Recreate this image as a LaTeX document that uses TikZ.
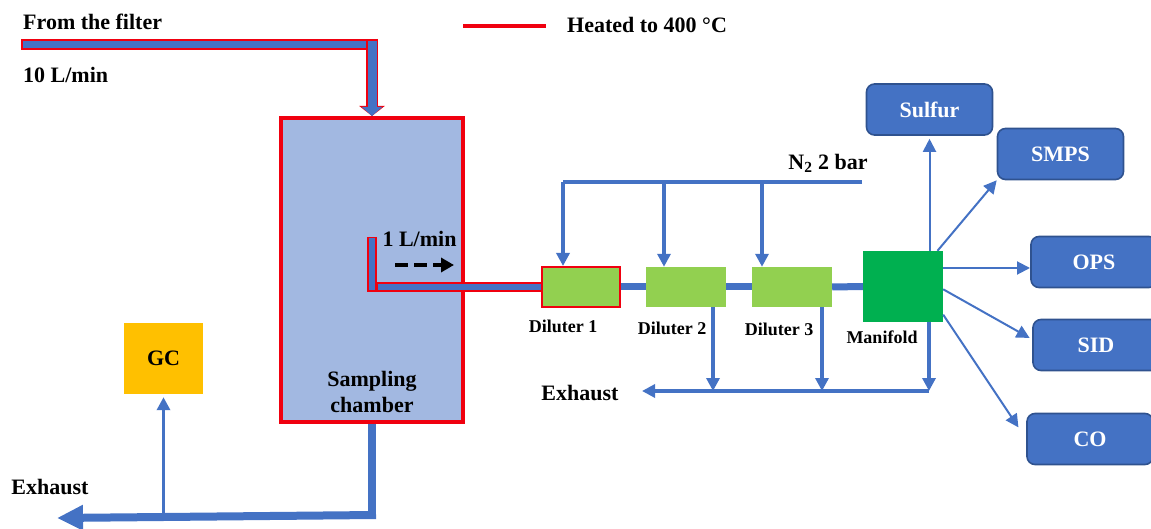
\documentclass[tikz,border=0pt]{standalone}
\usepackage{fontspec}
\setmainfont{Liberation Serif}
\usetikzlibrary{arrows.meta}
\definecolor{pipeblue}{HTML}{4472C4}
\definecolor{boxedge}{HTML}{2F528F}
\definecolor{chamberfill}{HTML}{A2B8E1}
\definecolor{dilutergreen}{HTML}{92D050}
\definecolor{manifoldgreen}{HTML}{00B050}
\definecolor{gcyellow}{HTML}{FFC000}
\definecolor{heatred}{HTML}{F0000F}
\begin{document}
\begin{tikzpicture}[
        x=1pt, y=-1pt,
        lab/.style={font=\fontsize{22}{26}\selectfont\bfseries, text=black, align=center, inner sep=0pt},
        smalllab/.style={font=\fontsize{18}{24}\selectfont\bfseries, text=black, align=center, inner sep=0pt},
        instrument/.style={rectangle, rounded corners=8pt, draw=boxedge, line width=1.6pt, fill=pipeblue, text=white, font=\fontsize{22}{26}\selectfont\bfseries, minimum width=126pt, minimum height=51pt, inner sep=0pt},
        diluter/.style={rectangle, fill=dilutergreen, minimum width=80pt, minimum height=40pt, inner sep=0pt},
        hotred/.style={draw=heatred, line width=11pt},
        hotblue/.style={draw=pipeblue, line width=7pt},
        gas/.style={draw=pipeblue, line width=3.5pt, -{Triangle[width=13pt,length=13pt]}},
        branch/.style={draw=pipeblue, line width=2pt, -{Triangle[width=13pt,length=13pt]}}
    ]
    \clip (0,0) rectangle (1151,529);

    % Chamber and boxes
    \node[rectangle, draw=heatred, line width=4pt, fill=chamberfill, minimum width=182pt, minimum height=304pt] (chamber) at (372,270) {};
    \node[lab] (chamberlab) at (372,392) {Sampling\\chamber};
    \node[rectangle, fill=gcyellow, minimum width=79pt, minimum height=71pt, lab] (gc) at (163.5,358.5) {GC};
    \node[diluter, draw=heatred, line width=2pt, minimum width=78pt] (diluter1) at (580.5,287) {};
    \node[diluter] (diluter2) at (686,287) {};
    \node[diluter] (diluter3) at (792,287) {};
    \node[rectangle, fill=manifoldgreen, minimum width=80pt, minimum height=71pt] (manifold) at (903,286.5) {};
    \node[smalllab] (dil1lab) at (563,326) {Diluter 1};
    \node[smalllab] (dil2lab) at (672,328) {Diluter 2};
    \node[smalllab] (dil3lab) at (779,329) {Diluter 3};
    \node[smalllab] (manlab) at (882,337) {Manifold};
    \node[instrument] (sulfur) at (929.5,109.5) {Sulfur};
    \node[instrument] (smps) at (1060.5,154) {SMPS};
    \node[instrument] (ops) at (1094,262) {OPS};
    \node[instrument] (sid) at (1096,345) {SID};
    \node[instrument] (co) at (1090,439) {CO};

    % Labels
    \node[lab, anchor=west] (filterlab) at (23,22) {From the filter};
    \node[lab, anchor=west] (flowlab) at (23,75) {10 L/min};
    \node[lab, anchor=west] (heatlab) at (567,25) {Heated to 400 °C};
    \node[lab] (n2lab) at (828,163) {N\textsubscript{2} 2 bar};
    \node[lab] (lminlab) at (419.5,239) {1 L/min};
    \node[lab] (exhaustlab) at (50,487) {Exhaust};
    \node[lab] (exhaustb) at (580,393) {Exhaust};

    % Legend
    \coordinate (legA) at (463,26);
    \coordinate (legB) at (546,26);
    \draw[draw=heatred, line width=4pt] (legA) -- (legB);

    % Inlet pipe
    \coordinate (inA) at (21,44.5);
    \coordinate (inB) at (378,44.5);
    \coordinate (inC) at (372,39);
    \draw[hotred] (inA) -- (inB);
    \draw[hotblue] (inA) ++(1.5,0) -- (inB);
    \draw[hotred, line width=12pt, -{Triangle[width=25pt,length=10pt]}] (inC) -- (chamber.north);
    \draw[hotblue, line width=9pt, -{Triangle[width=20pt,length=9pt]}] (372,41) -- (chamber.north);

    % Probe
    \coordinate (probeA) at (372,237);
    \coordinate (probeB) at (372,292);
    \coordinate (probeC) at (376,287);
    \draw[hotred, line width=10pt] (probeA) -- (probeB);
    \draw[hotblue, line width=5.5pt] (372,238.5) -- (372,290.5);
    \draw[hotred, line width=10pt] (probeC) -- (diluter1.west);
    \draw[hotblue, line width=6.5pt] (377.5,287) -- (diluter1.west);
    \coordinate (dashA) at (395,265);
    \coordinate (dashB) at (454,265);
    \draw[line width=3.5pt, dash pattern=on 13pt off 6pt, -{Triangle[width=14pt,length=13pt]}] (dashA) -- (dashB);

    % Dilution line
    \draw[draw=pipeblue, line width=7pt] (diluter1.east) -- (diluter2.west);
    \draw[draw=pipeblue, line width=7pt] (diluter2.east) -- (diluter3.west);
    \draw[draw=pipeblue, line width=7pt] (diluter3.east) -- (manifold.west);
    \coordinate (n2A) at (563,182);
    \coordinate (n2B) at (664,182);
    \coordinate (n2C) at (762,182);
    \coordinate (n2D) at (862,182);
    \draw[draw=pipeblue, line width=3.5pt] (n2D) -- (n2A);
    \draw[gas] (n2A) -- (n2A |- diluter1.north);
    \draw[gas] (n2B) -- (n2B |- diluter2.north);
    \draw[gas] (n2C) -- (n2C |- diluter3.north);

    % Exhaust of the diluters
    \coordinate (outA) at (713,391);
    \coordinate (outB) at (822,391);
    \coordinate (outC) at (929,391);
    \coordinate (outD) at (642,391);
    \draw[gas] (outC) -- (outD);
    \draw[gas] (outA |- diluter2.south) -- (outA);
    \draw[gas] (outB |- diluter3.south) -- (outB);
    \draw[gas] (outC |- manifold.south) -- (outC);

    % Manifold outputs
    \coordinate (opsin) at (1030,268);
    \draw[branch, shorten >=3pt] (sulfur.south |- manifold.north) -- (sulfur.south);
    \draw[branch] (manifold.46) -- (smps.south west);
    \draw[branch] (manifold.east |- opsin) -- (opsin);
    \draw[branch, shorten >=3pt] (manifold.-4) -- (sid.175);
    \draw[branch, shorten >=14pt] (manifold.-35) -- (co.west);

    % Chamber exhaust
    \coordinate (bendA) at (372,515);
    \coordinate (tipA) at (57,518);
    \draw[draw=pipeblue, line width=8pt] (chamber.south) -- (372,519);
    \draw[draw=pipeblue, line width=8pt, -{Triangle[width=24pt,length=26pt]}] (376,515) -- (tipA);
    \draw[gas, shorten >=3pt] (gc.south |- bendA) -- (gc.south);
\end{tikzpicture}
\end{document}
